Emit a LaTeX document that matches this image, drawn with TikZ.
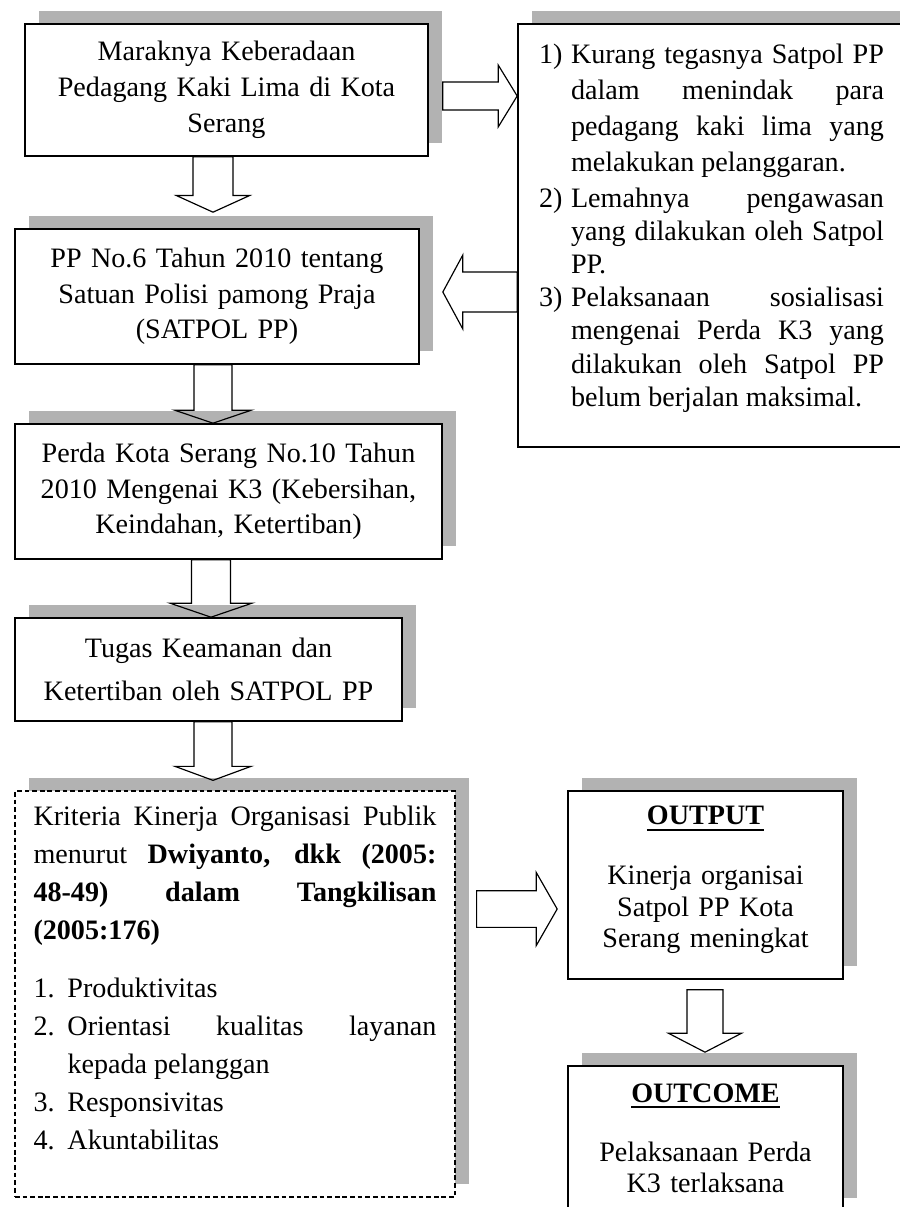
\documentclass[tikz,border=0pt]{standalone}
\usepackage{fontspec}
\setmainfont{Liberation Serif}
\usepackage{tikz}
\usetikzlibrary{calc}
\usetikzlibrary{shadows}
\hyphenpenalty=10000
\exhyphenpenalty=10000
\tikzset{panel/.style = {draw, fill=white, line width=1.4pt, align=center,
                         font=\fontsize{24}{30.5}\selectfont,
                         drop shadow={shadow xshift=0.42cm, shadow yshift=0.4cm,
                                      fill=black!30, opacity=1}}}
\tikzset{dpanel/.style = {panel, line width=1.1pt, dash pattern=on 4pt off 2.5pt}}
\tikzset{blockline/.style = {line width=1pt, line join=miter}}
% hollow block arrow: shaft half width, head half width, head length, from, to
\newcommand{\blockarrow}[5]{%
  \coordinate (ba-c) at ($(#5)!#3!(#4)$);
  \draw [blockline] ($(#4)!#1!90:(#5)$) -- ($(ba-c)!#1!90:(#5)$) -- ($(ba-c)!#2!90:(#5)$)
    -- (#5) -- ($(ba-c)!#2!-90:(#5)$) -- ($(ba-c)!#1!-90:(#5)$) -- ($(#4)!#1!-90:(#5)$) -- cycle;
}
\newcommand{\judul}[1]{\leavevmode\vtop{\hbox{\textbf{#1}}\kern3pt\hrule height 1.8pt}}
\newcommand{\butir}[1]{\hangafter=1\noindent\makebox[\hangindent][l]{#1}}

\begin{document}
\begin{tikzpicture}
      \useasboundingbox (0, 0) rectangle (27, -36.21);
      \clip (0, 0) rectangle (27, -36.21);

      \node [panel, text width=11.4cm, minimum width=12.09cm, minimum height=3.96cm]
        (box1) at (6.795, -2.7) {Maraknya Keberadaan\\ Pedagang Kaki Lima di Kota\\ Serang};
      \node [panel, text width=11.4cm, minimum width=12.12cm, minimum height=4.05cm]
        (box2) at (6.51, -8.895) {PP No.6 Tahun 2010 tentang\\ Satuan Polisi pamong Praja\\ (SATPOL PP)};
      \node [panel, text width=12.2cm, minimum width=12.81cm, minimum height=4.05cm]
        (box3) at (6.855, -14.745) {Perda Kota Serang No.10 Tahun\\ 2010 Mengenai K3 (Kebersihan,\\ Keindahan, Ketertiban)};
      \node [panel, text width=11cm, minimum width=11.61cm, minimum height=3.09cm,
        font=\fontsize{24}{37}\selectfont] (box4) at (6.255, -20.085)
        {Tugas Keamanan dan\\ Ketertiban oleh SATPOL PP};

      \node [panel, align=justify, text width=10.35cm, minimum width=11.61cm, minimum height=12.69cm]
        (prob) at (21.345, -7.065) {%
        {\fontsize{24}{30.5}\selectfont\hangindent=0.96cm\butir{1)}Kurang tegasnya Satpol PP\linebreak
          dalam menindak para\linebreak pedagang kaki lima yang\linebreak melakukan pelanggaran.\par}
        \vspace{3pt}
        {\fontsize{24}{28}\selectfont\hangindent=0.96cm\butir{2)}Lemahnya pengawasan\linebreak
          yang dilakukan oleh Satpol\linebreak PP.\par}
        {\fontsize{24}{28.5}\selectfont\hangindent=0.96cm\butir{3)}Pelaksanaan sosialisasi\linebreak
          mengenai Perda K3 yang\linebreak dilakukan oleh Satpol PP\linebreak
          belum berjalan maksimal.\rule[-0.6cm]{0pt}{0pt}\par}};

      \node [dpanel, align=justify, text width=12.09cm, minimum width=13.2cm, minimum height=12.18cm,
        font=\fontsize{24}{32.4}\selectfont] (krit) at (7.05, -29.82) {%
        Kriteria Kinerja Organisasi Publik\linebreak menurut \textbf{Dwiyanto, dkk (2005:}\linebreak
        \textbf{48-49) dalam Tangkilisan}\linebreak \textbf{(2005:176)}\par
        \vspace{17pt}
        \hangindent=1.02cm\butir{1.}Produktivitas\par
        \hangindent=1.02cm\butir{2.}Orientasi kualitas layanan\linebreak kepada pelanggan\par
        \hangindent=1.02cm\butir{3.}Responsivitas\par
        \hangindent=1.02cm\butir{4.}Akuntabilitas\rule[-0.96cm]{0pt}{0pt}\par};

      \node [panel, text width=7.6cm, minimum width=8.25cm, minimum height=5.64cm,
        font=\fontsize{24}{27}\selectfont] (output) at (21.165, -26.55)
        {\judul{OUTPUT}\\[24pt] Kinerja organisai\\ Satpol PP Kota\\ Serang meningkat\rule[-0.48cm]{0pt}{0pt}};
      \node [panel, text width=7.6cm, minimum width=8.25cm, minimum height=4.35cm,
        font=\fontsize{24}{26.5}\selectfont] (outcome) at (21.165, -34.155)
        {\judul{OUTCOME}\\[24pt] Pelaksanaan Perda\\ K3 terlaksana};

      \coordinate (a1s) at ([xshift=-0.405cm]box1.south);
      \coordinate (a1e) at ($(a1s |- box2.north) + (0, 0.48)$);
      \coordinate (a2s) at ([xshift=-0.12cm]box2.south);
      \coordinate (a2e) at (a2s |- box3.north);
      \coordinate (a3s) at ([xshift=-0.525cm]box3.south);
      \coordinate (a3e) at (a3s |- box4.north);
      \coordinate (a4s) at ([xshift=0.135cm]box4.south);
      \coordinate (a4e) at ($(a4s |- krit.north) + (0, 0.3)$);
      \coordinate (r1s) at ($(box1.east) + (0.42, -0.18)$);
      \coordinate (r1e) at (r1s -| prob.west);
      \coordinate (l1e) at ($(box2.east) + (0.69, 0.135)$);
      \coordinate (l1s) at (l1e -| prob.west);
      \coordinate (r2s) at ($(krit.east) + (0.63, 2.55)$);
      \coordinate (r2e) at ($(r2s -| output.west) + (-0.3, 0)$);
      \coordinate (d1s) at ($(output.south) + (-0.015, -0.3)$);
      \coordinate (d1e) at ($(d1s |- outcome.north) + (0, 0.39)$);

      \blockarrow{0.6cm}{1.1cm}{0.5cm}{a1s}{a1e}
      \blockarrow{0.57cm}{1.15cm}{0.39cm}{a2s}{a2e}
      \blockarrow{0.585cm}{1.23cm}{0.42cm}{a3s}{a3e}
      \blockarrow{0.57cm}{1.14cm}{0.42cm}{a4s}{a4e}
      \blockarrow{0.42cm}{0.93cm}{0.57cm}{r1s}{r1e}
      \blockarrow{0.6cm}{1.11cm}{0.6cm}{l1s}{l1e}
      \blockarrow{0.55cm}{1.1cm}{0.63cm}{r2s}{r2e}
      \blockarrow{0.54cm}{1.1cm}{0.57cm}{d1s}{d1e}
\end{tikzpicture}
\end{document}
